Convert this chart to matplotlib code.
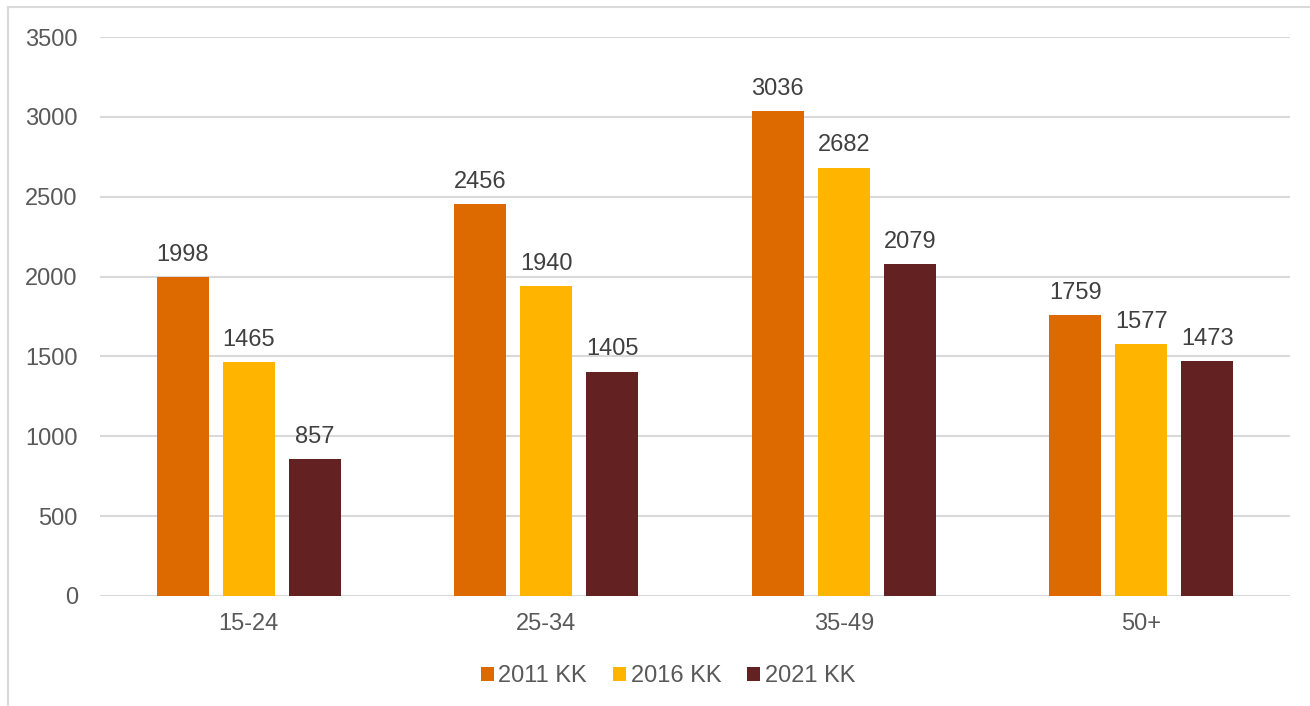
import matplotlib
matplotlib.use("Agg")
import matplotlib.pyplot as plt
import numpy as np
from matplotlib.lines import Line2D

categories = ["15-24", "25-34", "35-49", "50+"]
series_names = ["2011 KK", "2016 KK", "2021 KK"]
values_2011 = [1998, 2456, 3036, 1759]
values_2016 = [1465, 1940, 2682, 1577]
values_2021 = [857, 1405, 2079, 1473]
colors = ["#dd6a00", "#ffb500", "#632221"]

plt.rcParams["font.family"] = ["Liberation Sans", "DejaVu Sans"]

fig = plt.figure(figsize=(13.1, 7.06), dpi=100)
ax = fig.add_axes([100 / 1310, 110 / 706, 1190 / 1310, 559 / 706])

x = np.arange(len(categories))
width = 0.175
pitch = 0.222
all_values = [values_2011, values_2016, values_2021]
for i, (name, vals, col) in enumerate(zip(series_names, all_values, colors)):
    pos = x + (i - 1) * pitch
    bars = ax.bar(pos, vals, width, color=col, label=name, zorder=3)
    for b, v in zip(bars, vals):
        ax.text(b.get_x() + b.get_width() / 2, v + 70, str(v),
                ha="center", va="bottom", fontsize=17, color="#404040")

ax.set_xlim(-0.5, 3.5)
ax.set_ylim(0, 3500)
ax.set_yticks(range(0, 3501, 500))
ax.set_xticks(x)
ax.set_xticklabels(categories)
ax.yaxis.grid(True, color="#d9d9d9", linewidth=1.5, zorder=0)
ax.tick_params(axis="both", length=0, labelsize=17, colors="#595959")
ax.tick_params(axis="y", pad=16)
ax.tick_params(axis="x", pad=12)
for s in ax.spines.values():
    s.set_visible(False)

ax.legend(loc="center", bbox_to_anchor=((668 - 100) / 1190, (706 - 676 - 110) / 559),
          ncol=3, frameon=False, fontsize=17, labelcolor="#595959",
          handlelength=0.55, handleheight=0.55, handletextpad=0.2,
          columnspacing=1.1)

# chart frame (left and top edges)
fig.add_artist(Line2D([8 / 1310, 8 / 1310], [0, 1 - 7 / 706],
                      color="#d9d9d9", linewidth=1.5))
fig.add_artist(Line2D([8 / 1310, 1], [1 - 7 / 706, 1 - 7 / 706],
                      color="#d9d9d9", linewidth=1.5))

fig.savefig("out.png", dpi=100)
